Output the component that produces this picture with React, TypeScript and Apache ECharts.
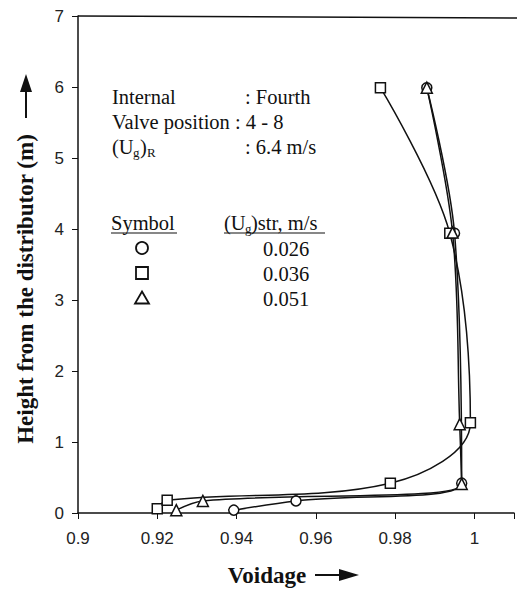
import React, { useEffect, useRef } from "react";
import * as echarts from "echarts";

const xTicks = [0.9, 0.92, 0.94, 0.96, 0.98, 1];
const yTicks = [0, 1, 2, 3, 4, 5, 6, 7];

// (voidage, height) pairs, ordered by height
const circleData: [number, number][] = [
  [0.9393, 0.04],
  [0.955, 0.17],
  [0.9968, 0.42],
  [0.995, 3.94],
  [0.988, 5.99],
];
const squareData: [number, number][] = [
  [0.92, 0.06],
  [0.9225, 0.18],
  [0.9788, 0.42],
  [0.999, 1.27],
  [0.9938, 3.94],
  [0.9763, 5.99],
];
const triangleData: [number, number][] = [
  [0.9248, 0.04],
  [0.9315, 0.17],
  [0.9968, 0.41],
  [0.9963, 1.25],
  [0.9945, 3.95],
  [0.988, 5.99],
];

const legendValues = ["0.026", "0.036", "0.051"];
const legendSymbols = ["circle", "rect", "triangle"];

const SERIF = "Liberation Serif";
const SANS = "Liberation Sans";

export default function App() {
  const ref = useRef<HTMLDivElement>(null);
  useEffect(() => {
    if (!ref.current) return;
    const chart = echarts.init(ref.current, undefined, { renderer: "svg" });
    const txt = (x: number, y: number, text: string, size = 20.5, extra: any = {}) => ({
      type: "text",
      x,
      y,
      style: {
        text,
        fontFamily: SERIF,
        fontSize: size,
        fill: "#111",
        verticalAlign: "middle",
        align: "left",
        ...extra,
      },
    });
    const mk = (name: string, sym: string, data: [number, number][]) => ({
      name,
      type: "line",
      data,
      smooth: 0.35,
      symbol: sym,
      symbolSize: sym === "triangle" ? 11 : 10,
      lineStyle: { color: "#111", width: 1.5 },
      itemStyle: { color: "#fff", borderColor: "#111", borderWidth: 1.5 },
      z: 3,
    });
    const legendY = [248, 273, 298];
    const legendGraphics: any[] = [];
    legendSymbols.forEach((s, i) => {
      const y = legendY[i];
      if (s === "circle") {
        legendGraphics.push({
          type: "circle",
          shape: { cx: 142, cy: y, r: 6 },
          style: { fill: "#fff", stroke: "#111", lineWidth: 1.8 },
        });
      } else if (s === "rect") {
        legendGraphics.push({
          type: "rect",
          shape: { x: 136, y: y - 6, width: 12, height: 12 },
          style: { fill: "#fff", stroke: "#111", lineWidth: 1.8 },
        });
      } else {
        legendGraphics.push({
          type: "polygon",
          shape: { points: [[142, y - 6.5], [149, y + 5.5], [135, y + 5.5]] },
          style: { fill: "#fff", stroke: "#111", lineWidth: 1.8 },
        });
      }
      legendGraphics.push(txt(263, y + 1, legendValues[i]));
    });

    chart.setOption({
      animation: false,
      backgroundColor: "#fff",
      grid: { left: 78, top: 16, right: 0, bottom: 77 },
      xAxis: {
        type: "value",
        min: 0.9,
        max: 1.01,
        interval: 0.02,
        axisLine: { lineStyle: { color: "#111", width: 1.5 } },
        axisTick: { show: true, length: 6, lineStyle: { color: "#111" } },
        axisLabel: {
          fontFamily: SANS,
          fontSize: 17,
          color: "#222",
          margin: 17,
          formatter: (v: number) => {
            const r = Math.round(v * 100) / 100;
            return xTicks.some((t) => Math.abs(t - r) < 1e-9) ? String(r) : "";
          },
        },
        splitLine: { show: false },
      },
      yAxis: {
        type: "value",
        min: 0,
        max: 7,
        interval: 1,
        axisLine: { show: true, lineStyle: { color: "#111", width: 1.5 } },
        axisTick: { show: true, length: 6, lineStyle: { color: "#111" } },
        axisLabel: {
          fontFamily: SANS,
          fontSize: 17,
          color: "#222",
          margin: 14,
          formatter: (v: number) => (yTicks.includes(v) ? String(v) : ""),
        },
        splitLine: { show: false },
      },
      series: [
        mk("0.026", "circle", circleData),
        mk("0.036", "rect", squareData),
        mk("0.051", "triangle", triangleData),
      ],
      graphic: [
        // top frame line
        { type: "line", shape: { x1: 78, y1: 16, x2: 517, y2: 18 }, style: { stroke: "#111", lineWidth: 1.5 } },
        // info block
        txt(112, 97, "Internal"),
        txt(245, 97, ": Fourth"),
        txt(112, 122, "Valve position : 4 - 8"),
        txt(112, 147, "(U"),
        txt(133, 152, "g", 13),
        txt(140, 147, ")"),
        txt(147, 152, "R", 13),
        txt(245, 147, ": 6.4 m/s"),
        // legend header
        txt(111, 223, "Symbol"),
        { type: "line", shape: { x1: 111, y1: 233, x2: 177, y2: 233 }, style: { stroke: "#111", lineWidth: 1.2 } },
        txt(224, 223, "(U"),
        txt(245, 228, "g", 13),
        txt(251, 223, ")str, m/s"),
        { type: "line", shape: { x1: 224, y1: 233, x2: 325, y2: 233 }, style: { stroke: "#111", lineWidth: 1.2 } },
        ...legendGraphics,
        // y axis title
        {
          type: "text",
          x: 25,
          y: 289,
          rotation: Math.PI / 2,
          style: {
            text: "Height from the distributor (m)",
            fontFamily: SERIF,
            fontWeight: "bold",
            fontSize: 23,
            fill: "#111",
            align: "center",
            verticalAlign: "middle",
          },
        },
        { type: "line", shape: { x1: 26, y1: 118, x2: 26, y2: 88 }, style: { stroke: "#111", lineWidth: 2 } },
        { type: "polygon", shape: { points: [[26, 74], [32, 92], [20, 92]] }, style: { fill: "#111" } },
        // x axis title
        {
          type: "text",
          x: 267,
          y: 575,
          style: {
            text: "Voidage",
            fontFamily: SERIF,
            fontWeight: "bold",
            fontSize: 23,
            fill: "#111",
            align: "center",
            verticalAlign: "middle",
          },
        },
        { type: "line", shape: { x1: 315, y1: 575, x2: 342, y2: 575 }, style: { stroke: "#111", lineWidth: 2 } },
        { type: "polygon", shape: { points: [[359, 575], [339, 569], [339, 581]] }, style: { fill: "#111" } },
      ],
    });
    return () => chart.dispose();
  }, []);
  return (
    <div
      ref={ref}
      style={{ position: "absolute", left: 0, top: 0, width: 517, height: 590, background: "#fff" }}
    />
  );
}
